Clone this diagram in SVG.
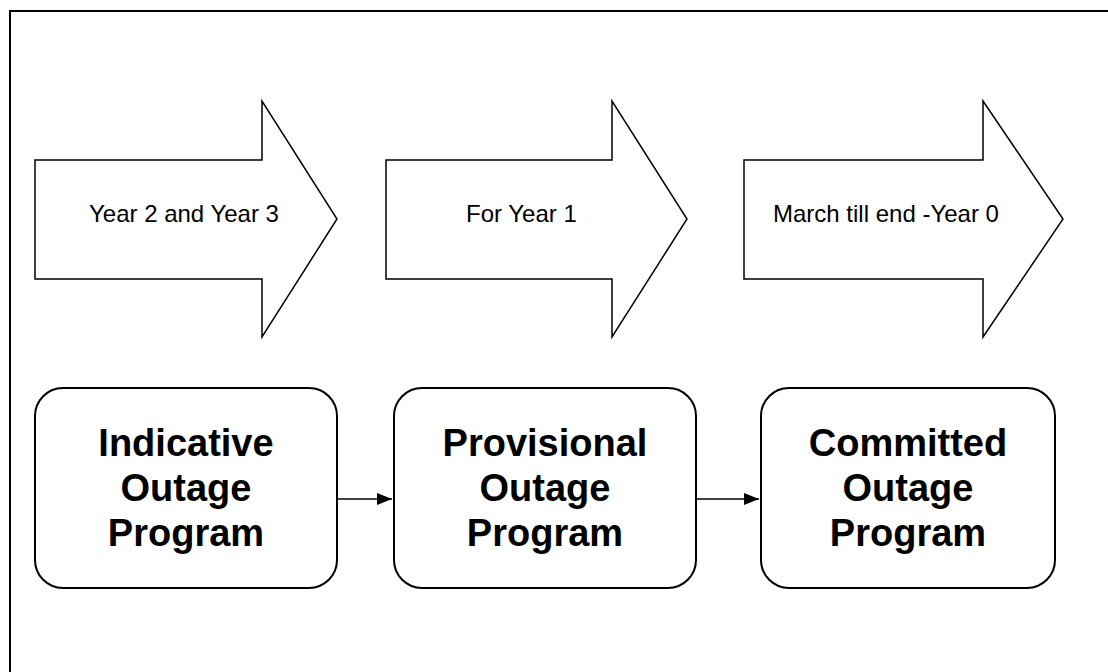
<svg xmlns="http://www.w3.org/2000/svg" width="1108" height="672" viewBox="0 0 1108 672">
<style>
.arrow{fill:#fff;stroke:#000;stroke-width:1.5;stroke-linejoin:miter}
.box{fill:#fff;stroke:#000;stroke-width:2}
.small{font-family:"Liberation Sans",Arial,sans-serif;font-size:24px;fill:#000}
.big{font-family:"Liberation Sans",Arial,sans-serif;font-size:38px;font-weight:bold;fill:#000;text-anchor:middle}
.conn{stroke:#000;stroke-width:1.6;fill:none}
</style>
<defs>
<marker id="ah" markerWidth="16" markerHeight="12" refX="15" refY="6" orient="auto" markerUnits="userSpaceOnUse">
<path d="M0,0 L15,6 L0,12 Z" fill="#000"/>
</marker>
</defs>
<rect x="0" y="0" width="1108" height="672" fill="#fff"/>
<path d="M10,672 L10,11 L1108,11" fill="none" stroke="#000" stroke-width="2"/>
<g id="arrow1">
<polygon class="arrow" points="35,160 262,160 262,101 337,219 262,337 262,279 35,279"/>
<text class="small" x="89" y="222">Year 2 and Year 3</text>
</g>
<g id="arrow2">
<polygon class="arrow" points="386,160 612,160 612,101 687,219 612,337 612,279 386,279"/>
<text class="small" x="466" y="222">For Year 1</text>
</g>
<g id="arrow3">
<polygon class="arrow" points="744,160 983,160 983,101 1063,219 983,337 983,279 744,279"/>
<text class="small" x="773" y="222">March till end -Year 0</text>
</g>
<g id="box1">
<rect class="box" x="35" y="388" width="302" height="200" rx="28" ry="28"/>
<text class="big" x="186" y="456">Indicative</text>
<text class="big" x="186" y="501">Outage</text>
<text class="big" x="186" y="546">Program</text>
</g>
<g id="box2">
<rect class="box" x="394" y="388" width="302" height="200" rx="28" ry="28"/>
<text class="big" x="545" y="456">Provisional</text>
<text class="big" x="545" y="501">Outage</text>
<text class="big" x="545" y="546">Program</text>
</g>
<g id="box3">
<rect class="box" x="761" y="388" width="294" height="200" rx="28" ry="28"/>
<text class="big" x="908" y="456">Committed</text>
<text class="big" x="908" y="501">Outage</text>
<text class="big" x="908" y="546">Program</text>
</g>
<g id="connectors">
<line class="conn" x1="337" y1="499" x2="392" y2="499" marker-end="url(#ah)"/>
<line class="conn" x1="696" y1="499" x2="759" y2="499" marker-end="url(#ah)"/>
</g>
</svg>
